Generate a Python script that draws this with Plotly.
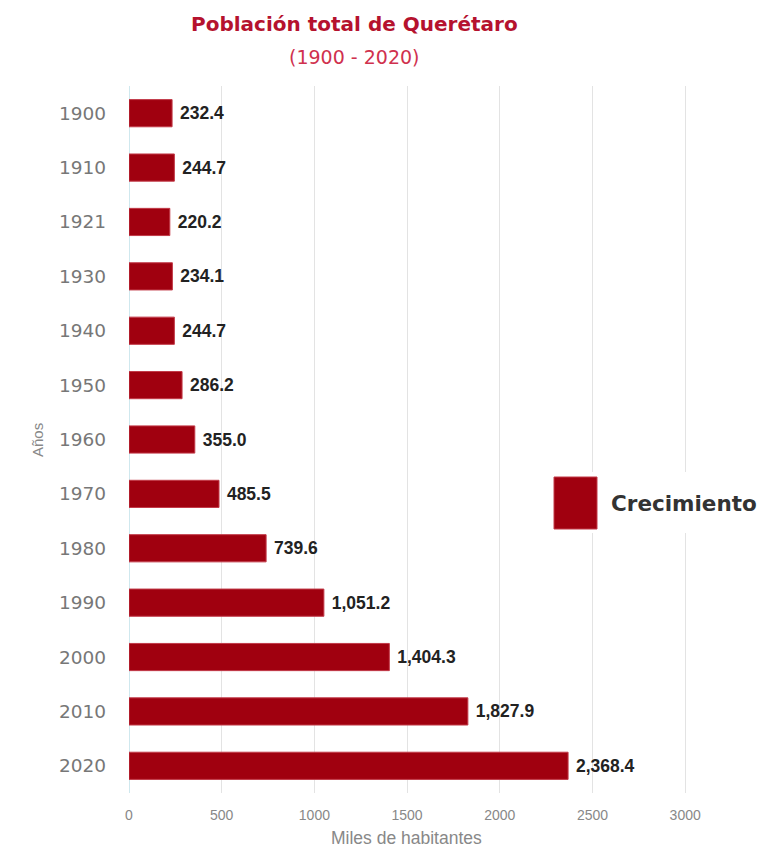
import plotly.graph_objects as go

years = ["1900", "1910", "1921", "1930", "1940", "1950", "1960", "1970", "1980", "1990", "2000", "2010", "2020"]
poblacion = [232.4, 244.7, 220.2, 234.1, 244.7, 286.2, 355.0, 485.5, 739.6, 1051.2, 1404.3, 1827.9, 2368.4]
x_ticks = [0, 500, 1000, 1500, 2000, 2500, 3000]

BAR = "#a0000f"
NARROW = "Liberation Sans Narrow, Arial Narrow, Liberation Sans, Arial, sans-serif"
VERD = "DejaVu Sans, Verdana, sans-serif"

W, H = 772, 849
OFF = 8  # page body margin
L, R, T, B = 121, 80, 78, 64
PW, PH = W - L - R, H - T - B

def px(x):
    return (x - OFF - L) / PW

def py(y):
    return (H - B - (y - OFF)) / PH

fig = go.Figure()
fig.add_trace(go.Bar(
    y=years, x=poblacion, orientation="h",
    marker=dict(color=BAR, line=dict(color="#c23a48", width=1)),
    width=0.5,
    text=poblacion, texttemplate="\u00a0<b>%{x:,.1f}</b>", textposition="outside",
    textfont=dict(family=NARROW, size=17.5, color="#222222"),
    cliponaxis=False, name="Crecimiento", showlegend=False,
))

fig.update_layout(
    width=W, height=H,
    paper_bgcolor="white", plot_bgcolor="white",
    margin=dict(l=L, r=R, t=T, b=B, autoexpand=False),
    xaxis=dict(
        range=[0, 3080], tickvals=x_ticks, ticktext=[str(v) for v in x_ticks],
        showgrid=True, gridcolor="#e3e3e3", gridwidth=1,
        zeroline=True, zerolinecolor="#cfe8ee", zerolinewidth=1,
        showline=False, ticks="", automargin=False, ticklabelstandoff=12,
        tickfont=dict(family=NARROW, size=14, color="#888888"),
    ),
    yaxis=dict(
        categoryorder="array", categoryarray=years[::-1],
        showgrid=False, ticks="", ticklabelstandoff=22, automargin=False,
        tickfont=dict(family=VERD, size=18.5, color="#777777"),
    ),
)

# titles
fig.add_annotation(xref="paper", yref="paper", x=px(354), y=py(24), text="<b>Población total de Querétaro</b>",
                   showarrow=False, xanchor="center", yanchor="middle",
                   font=dict(family=VERD, size=20, color="#b5122e"))
fig.add_annotation(xref="paper", yref="paper", x=px(354), y=py(57), text="(1900 - 2020)",
                   showarrow=False, xanchor="center", yanchor="middle",
                   font=dict(family=VERD, size=19, color="#d0314e"))
# axis titles
fig.add_annotation(xref="paper", yref="paper", x=px(406), y=py(838), text="Miles de habitantes",
                   showarrow=False, xanchor="center", yanchor="middle",
                   font=dict(family=NARROW, size=17.5, color="#888888"))
fig.add_annotation(xref="paper", yref="paper", x=px(37), y=py(440), text="Años", textangle=-90,
                   showarrow=False, xanchor="center", yanchor="middle",
                   font=dict(family=NARROW, size=15, color="#888888"))

# legend drawn manually (large swatch)
fig.add_shape(type="rect", xref="paper", yref="paper",
              x0=px(545), x1=px(780), y0=py(533), y1=py(472),
              fillcolor="white", line=dict(width=0), layer="above")
fig.add_shape(type="rect", xref="paper", yref="paper",
              x0=px(554), x1=px(597), y0=py(529), y1=py(477),
              fillcolor=BAR, line=dict(color="#c23a48", width=1), layer="above")
fig.add_annotation(xref="paper", yref="paper", x=px(609), y=py(503),
                   text="<b>Crecimiento</b>", showarrow=False, xanchor="left", yanchor="middle",
                   font=dict(family=VERD, size=21.5, color="#333333"))

fig.write_html("out.html")
